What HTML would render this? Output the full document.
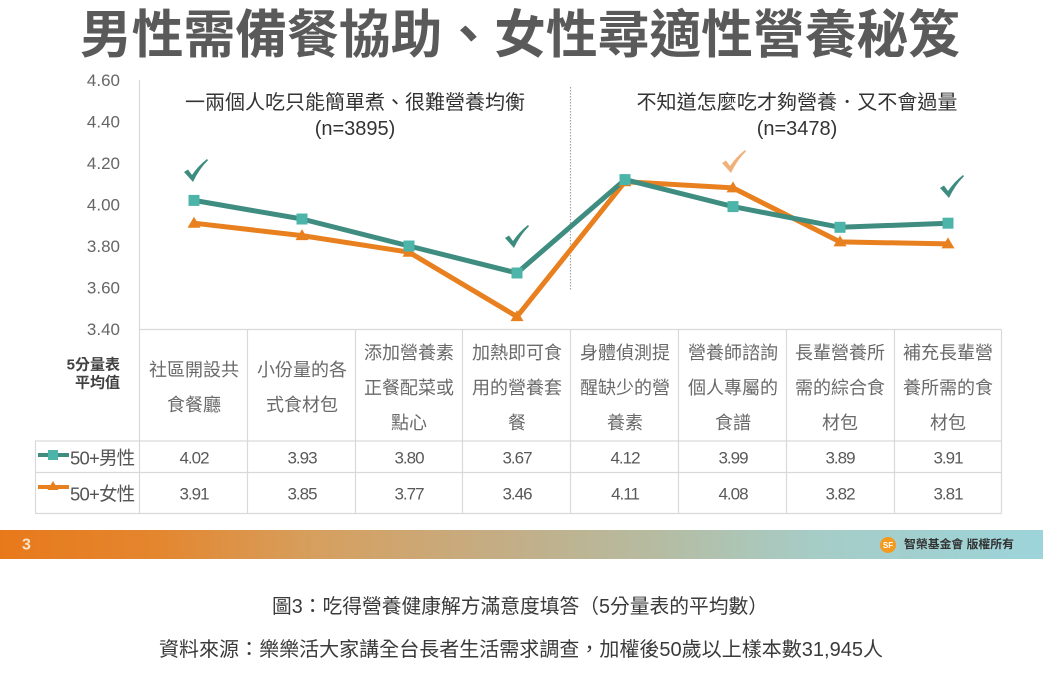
<!DOCTYPE html>
<html>
<head>
<meta charset="utf-8">
<style>
  html,body{margin:0;padding:0;background:#fff;}
  svg{display:block;}
  text{font-family:"Liberation Sans","Noto Sans CJK TC",sans-serif;}
</style>
</head>
<body>
<svg width="1043" height="683" viewBox="0 0 1043 683" xmlns="http://www.w3.org/2000/svg">
  <defs>
    <linearGradient id="bar" x1="0" y1="0" x2="1" y2="0">
      <stop offset="0" stop-color="#E8791B"/>
      <stop offset="0.15" stop-color="#E4862F"/>
      <stop offset="0.3" stop-color="#D69F5E"/>
      <stop offset="0.48" stop-color="#C4AD85"/>
      <stop offset="0.63" stop-color="#B5BCA2"/>
      <stop offset="0.78" stop-color="#A6CCC6"/>
      <stop offset="1" stop-color="#9DD4DA"/>
    </linearGradient>
  </defs>
  <rect width="1043" height="683" fill="#fff"/>

  <!-- Title -->
  <text x="520" y="53" text-anchor="middle" font-size="52" font-weight="bold" fill="#5a5a5a" textLength="880" lengthAdjust="spacingAndGlyphs">男性需備餐協助、女性尋適性營養秘笈</text>

  <!-- Y axis labels -->
  <g font-size="17" fill="#666" text-anchor="end">
    <text x="120" y="86">4.60</text>
    <text x="120" y="127.5">4.40</text>
    <text x="120" y="169">4.20</text>
    <text x="120" y="210.5">4.00</text>
    <text x="120" y="252">3.80</text>
    <text x="120" y="293.5">3.60</text>
    <text x="120" y="335">3.40</text>
  </g>

  <!-- axis line -->
  <line x1="139.5" y1="80" x2="139.5" y2="330" stroke="#d9d9d9" stroke-width="1.2"/>

  <!-- dotted separator -->
  <line x1="570.5" y1="87" x2="570.5" y2="290" stroke="#a6a6a6" stroke-width="1.2" stroke-dasharray="1.5,1.5"/>

  <!-- annotations -->
  <g font-size="20" fill="#333" text-anchor="middle">
    <text x="355" y="103" dominant-baseline="central" textLength="340" lengthAdjust="spacingAndGlyphs">一兩個人吃只能簡單煮、很難營養均衡</text>
    <text x="355" y="129" dominant-baseline="central">(n=3895)</text>
    <text x="797" y="103" dominant-baseline="central" textLength="321" lengthAdjust="spacingAndGlyphs">不知道怎麼吃才夠營養．又不會過量</text>
    <text x="797" y="129" dominant-baseline="central">(n=3478)</text>
  </g>

  <!-- checkmarks -->
  <g fill="#3E8C80">
    <path transform="translate(184,159)" d="M0,13 L4,10.5 L8,16 Q14,7 23,0 L24,1.2 Q15,10 9,23 Z"/>
    <path transform="translate(505,225)" d="M0,13 L4,10.5 L8,16 Q14,7 23,0 L24,1.2 Q15,10 9,23 Z"/>
    <path transform="translate(940,175)" d="M0,13 L4,10.5 L8,16 Q14,7 23,0 L24,1.2 Q15,10 9,23 Z"/>
  </g>
  <path transform="translate(722,150)" d="M0,13 L4,10.5 L8,16 Q14,7 23,0 L24,1.2 Q15,10 9,23 Z" fill="#F0B07A"/>

  <!-- series lines -->
  <polyline fill="none" stroke="#E8801F" stroke-width="5" stroke-linejoin="round"
    points="194,223.2 302,235.6 409,252.2 517,316.6 625,181.7 733,187.9 840,241.9 948,243.9"/>
  <polyline fill="none" stroke="#3F8C80" stroke-width="5" stroke-linejoin="round"
    points="194,200.4 302,219.0 409,246.0 517,273.0 625,179.6 733,206.6 840,227.3 948,223.2"/>

  <!-- female markers (triangles) -->
  <g fill="#E8801F">
    <path d="M194,216.7 L200.5,227.7 L187.5,227.7 Z"/>
    <path d="M302,229.1 L308.5,240.1 L295.5,240.1 Z"/>
    <path d="M409,245.7 L415.5,256.7 L402.5,256.7 Z"/>
    <path d="M517,310.1 L523.5,321.1 L510.5,321.1 Z"/>
    <path d="M625,175.2 L631.5,186.2 L618.5,186.2 Z"/>
    <path d="M733,181.4 L739.5,192.4 L726.5,192.4 Z"/>
    <path d="M840,235.4 L846.5,246.4 L833.5,246.4 Z"/>
    <path d="M948,237.4 L954.5,248.4 L941.5,248.4 Z"/>
  </g>
  <!-- male markers (squares) -->
  <g fill="#4DB4A9">
    <rect x="188.5" y="194.9" width="11" height="11"/>
    <rect x="296.5" y="213.5" width="11" height="11"/>
    <rect x="403.5" y="240.5" width="11" height="11"/>
    <rect x="511.5" y="267.5" width="11" height="11"/>
    <rect x="619.5" y="174.1" width="11" height="11"/>
    <rect x="727.5" y="201.1" width="11" height="11"/>
    <rect x="834.5" y="221.8" width="11" height="11"/>
    <rect x="942.5" y="217.7" width="11" height="11"/>
  </g>

  <!-- table grid -->
  <g stroke="#d9d9d9" stroke-width="1.2">
    <line x1="139.5" y1="329.5" x2="1001.5" y2="329.5"/>
    <line x1="35" y1="441" x2="1001.5" y2="441"/>
    <line x1="35" y1="472.5" x2="1001.5" y2="472.5"/>
    <line x1="35" y1="513.5" x2="1001.5" y2="513.5"/>
    <line x1="35.5" y1="441" x2="35.5" y2="513.5"/>
    <line x1="139.5" y1="329.5" x2="139.5" y2="513.5"/>
    <line x1="247.5" y1="329.5" x2="247.5" y2="513.5"/>
    <line x1="355.5" y1="329.5" x2="355.5" y2="513.5"/>
    <line x1="462.5" y1="329.5" x2="462.5" y2="513.5"/>
    <line x1="570.5" y1="329.5" x2="570.5" y2="513.5"/>
    <line x1="678.5" y1="329.5" x2="678.5" y2="513.5"/>
    <line x1="786.5" y1="329.5" x2="786.5" y2="513.5"/>
    <line x1="894.5" y1="329.5" x2="894.5" y2="513.5"/>
    <line x1="1001.5" y1="329.5" x2="1001.5" y2="513.5"/>
  </g>

  <!-- row header label -->
  <g font-size="15" font-weight="bold" fill="#404040" text-anchor="end">
    <text x="120" y="365" dominant-baseline="central">5分量表</text>
    <text x="120" y="383" dominant-baseline="central">平均值</text>
  </g>

  <!-- column headers -->
  <g font-size="18" fill="#6a6a6a" text-anchor="middle">
    <text x="194" y="370" dominant-baseline="central">社區開設共</text>
    <text x="194" y="405" dominant-baseline="central">食餐廳</text>
    <text x="302" y="370" dominant-baseline="central">小份量的各</text>
    <text x="302" y="405" dominant-baseline="central">式食材包</text>
    <text x="409" y="353" dominant-baseline="central">添加營養素</text>
    <text x="409" y="388" dominant-baseline="central">正餐配菜或</text>
    <text x="409" y="423" dominant-baseline="central">點心</text>
    <text x="517" y="353" dominant-baseline="central">加熱即可食</text>
    <text x="517" y="388" dominant-baseline="central">用的營養套</text>
    <text x="517" y="423" dominant-baseline="central">餐</text>
    <text x="625" y="353" dominant-baseline="central">身體偵測提</text>
    <text x="625" y="388" dominant-baseline="central">醒缺少的營</text>
    <text x="625" y="423" dominant-baseline="central">養素</text>
    <text x="733" y="353" dominant-baseline="central">營養師諮詢</text>
    <text x="733" y="388" dominant-baseline="central">個人專屬的</text>
    <text x="733" y="423" dominant-baseline="central">食譜</text>
    <text x="840" y="353" dominant-baseline="central">長輩營養所</text>
    <text x="840" y="388" dominant-baseline="central">需的綜合食</text>
    <text x="840" y="423" dominant-baseline="central">材包</text>
    <text x="948" y="353" dominant-baseline="central">補充長輩營</text>
    <text x="948" y="388" dominant-baseline="central">養所需的食</text>
    <text x="948" y="423" dominant-baseline="central">材包</text>
  </g>

  <!-- legend in table -->
  <line x1="38" y1="455" x2="69" y2="455" stroke="#3F8C80" stroke-width="4"/>
  <rect x="48" y="450" width="10" height="10" fill="#4DB4A9"/>
  <line x1="38" y1="487" x2="69" y2="487" stroke="#E8801F" stroke-width="4"/>
  <path d="M53,481 L58.5,490 L47.5,490 Z" fill="#E8801F"/>
  <g font-size="18.5" fill="#555" letter-spacing="-0.8">
    <text x="70" y="458" dominant-baseline="central">50+男性</text>
    <text x="70" y="494" dominant-baseline="central">50+女性</text>
  </g>

  <!-- data values -->
  <g font-size="17" fill="#595959" text-anchor="middle" letter-spacing="-1">
    <text x="194" y="458" dominant-baseline="central">4.02</text>
    <text x="302" y="458" dominant-baseline="central">3.93</text>
    <text x="409" y="458" dominant-baseline="central">3.80</text>
    <text x="517" y="458" dominant-baseline="central">3.67</text>
    <text x="625" y="458" dominant-baseline="central">4.12</text>
    <text x="733" y="458" dominant-baseline="central">3.99</text>
    <text x="840" y="458" dominant-baseline="central">3.89</text>
    <text x="948" y="458" dominant-baseline="central">3.91</text>
    <text x="194" y="494" dominant-baseline="central">3.91</text>
    <text x="302" y="494" dominant-baseline="central">3.85</text>
    <text x="409" y="494" dominant-baseline="central">3.77</text>
    <text x="517" y="494" dominant-baseline="central">3.46</text>
    <text x="625" y="494" dominant-baseline="central">4.11</text>
    <text x="733" y="494" dominant-baseline="central">4.08</text>
    <text x="840" y="494" dominant-baseline="central">3.82</text>
    <text x="948" y="494" dominant-baseline="central">3.81</text>
  </g>

  <!-- footer bar -->
  <rect x="0" y="530" width="1043" height="29" fill="url(#bar)"/>
  <text x="22" y="545" dominant-baseline="central" font-size="16" font-weight="bold" fill="#FBE2C4">3</text>
  <circle cx="888" cy="545" r="8" fill="#F39A1F"/>
  <text x="888" y="545.5" dominant-baseline="central" text-anchor="middle" font-size="8" font-weight="bold" fill="#fff">SF</text>
  <text x="904" y="545" dominant-baseline="central" font-size="11.5" font-weight="bold" fill="#333" textLength="110" lengthAdjust="spacingAndGlyphs">智榮基金會 版權所有</text>

  <!-- captions -->
  <text x="520" y="607" dominant-baseline="central" text-anchor="middle" font-size="20" fill="#3a3a3a" textLength="496" lengthAdjust="spacingAndGlyphs">圖3：吃得營養健康解方滿意度填答（5分量表的平均數）</text>
  <text x="521" y="650" dominant-baseline="central" text-anchor="middle" font-size="20" fill="#3a3a3a" textLength="724" lengthAdjust="spacingAndGlyphs">資料來源：樂樂活大家講全台長者生活需求調查，加權後50歲以上樣本數31,945人</text>
</svg>
</body>
</html>
